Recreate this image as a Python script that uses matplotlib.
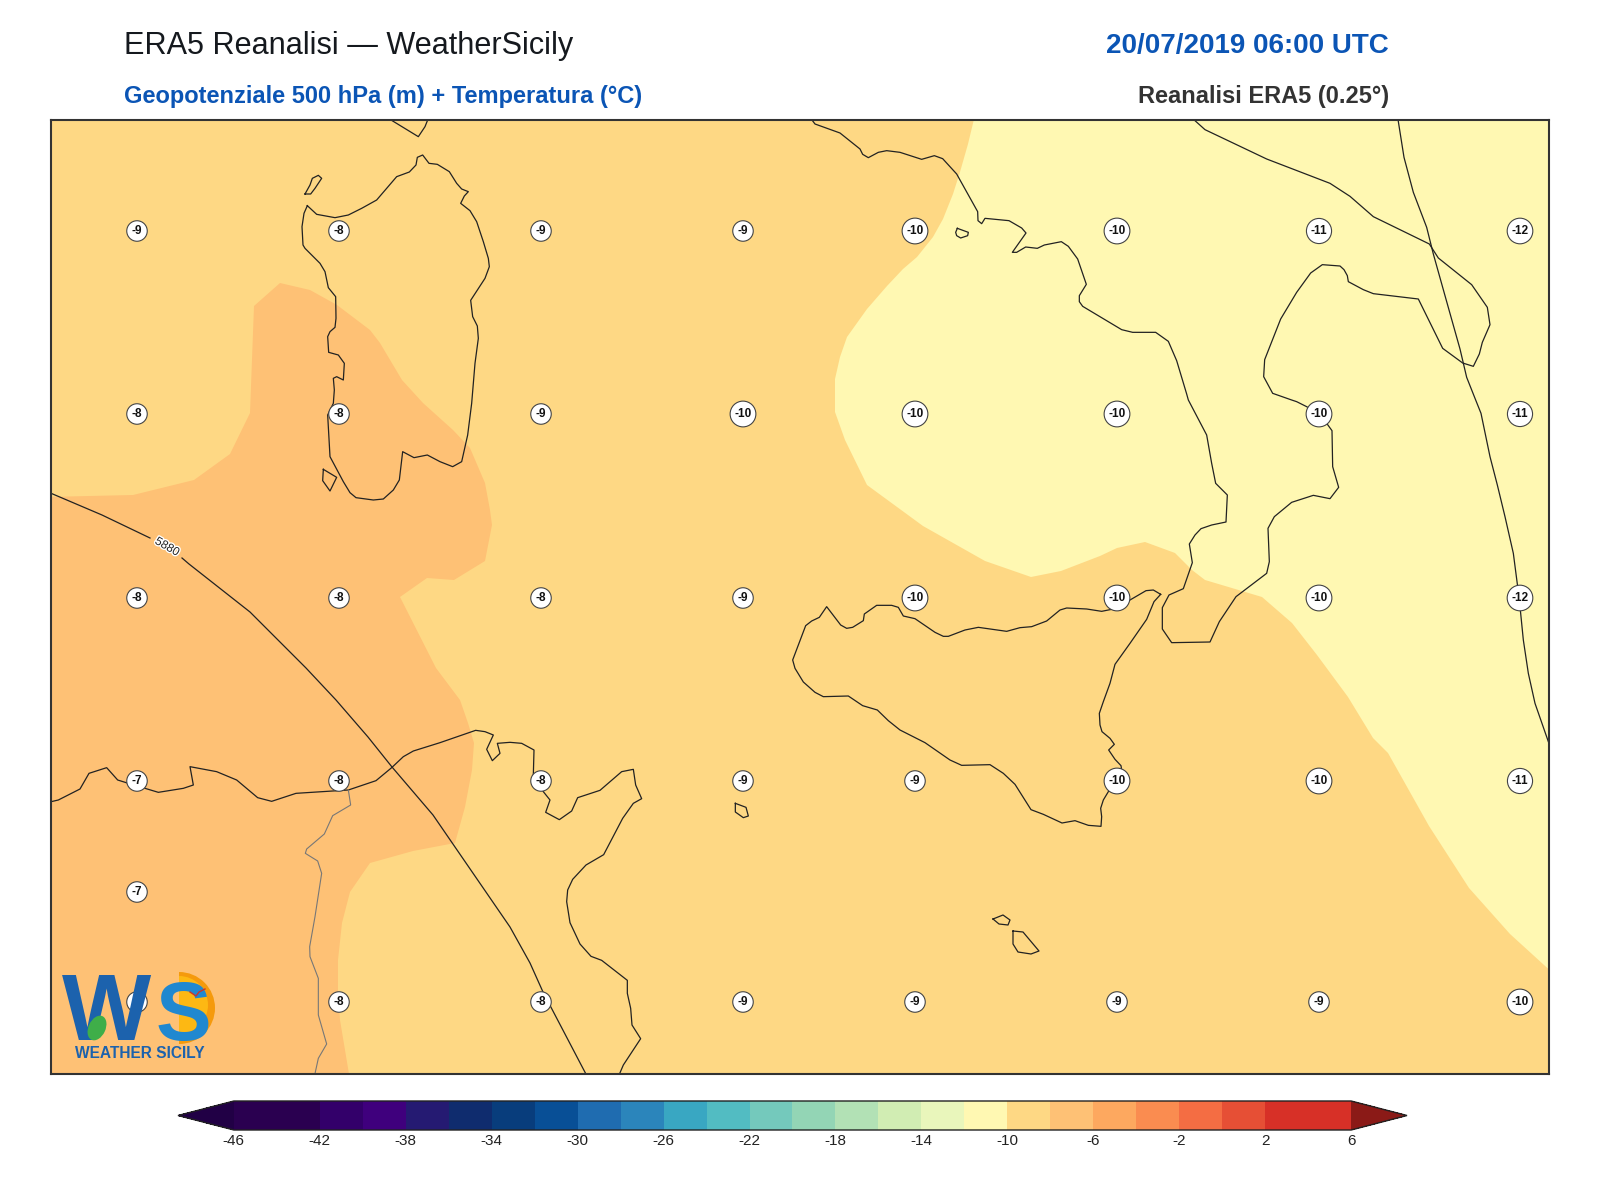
import matplotlib
matplotlib.use("Agg")
import matplotlib.pyplot as plt
import matplotlib.patheffects as pe
from matplotlib.colors import ListedColormap, BoundaryNorm
from matplotlib.colorbar import ColorbarBase
from matplotlib.patches import Wedge, Ellipse

plt.rcParams['font.family'] = ['Liberation Sans', 'DejaVu Sans']

# ---------- values ----------
LEVELS = list(range(-46, 8, 2))
TICKS = list(range(-46, 10, 4))
BAND_COLORS = ['#2a0050', '#2a0050', '#33006a', '#3f007d', '#251a72', '#0f2c6e', '#083d7c', '#084f96',
               '#1f6cb0', '#2b85bb', '#39a7c2', '#52bcc2', '#74c9bc', '#93d5b5', '#b2e1b5', '#d1edb3',
               '#e9f6bb', '#fff8b2', '#fed884', '#fec175', '#fda85f', '#fa8c50', '#f46d43', '#e64f35',
               '#d73027', '#d73027']
UNDER = '#210045'
OVER = '#8b1a17'

GRID_X = [137, 339, 541, 743, 915, 1117, 1319, 1520]
ROW_Y = [231, 414, 598, 781, 1002]
ROW_T = [
    [-9, -8, -9, -9, -10, -10, -11, -12],
    [-8, -8, -9, -10, -10, -10, -10, -11],
    [-8, -8, -8, -9, -10, -10, -10, -12],
    [-7, -8, -8, -9, -9, -10, -10, -11],
    [-7, -8, -8, -9, -9, -9, -9, -10],
]
EXTRA_X, EXTRA_Y, EXTRA_T = [137], [892], [-7]

# Outlines, each as (x0, y0, points read at 3x from a map window)
SARDINIA = (280, 120, [(82,257),(110,283),(165,293),(205,285),(245,265),(290,240),(320,205),(350,170),(388,156),(408,135),(412,112),(428,105),(447,130),(472,133),(508,155),(530,190),(545,207),(565,215),(553,228),(542,250),(570,272),(590,305),(610,365),(625,415),(628,440),(615,475),(572,541),(578,590),(592,618),(595,655),(585,730),(575,850),(563,945),(545,1025),(518,1040),(480,1025),(442,1005),(402,1013),(368,995),(358,1080),(340,1110),(310,1137),(280,1140),(228,1133),(210,1118),(190,1085),(150,1010),(143,885),(160,850),(163,810),(160,775),(170,770),(190,780),(193,730),(175,705),(146,697),(143,650),(150,635),(165,622),(168,595),(167,530),(145,503),(135,455),(120,430),(75,385),(69,375),(66,320),(72,280),(82,257)])
ASINARA = (280, 120, [(75,222),(92,222),(105,205),(125,175),(115,166),(97,175),(90,195),(75,222)])
ANTIOCO = (280, 120, [(130,1048),(170,1072),(150,1113),(128,1082),(130,1048)])
CORSICA = (280, 120, [(325,-5),(415,50),(435,20),(445,-5)])
SICILY = (780, 570, [(1142,73),(1120,60),(1098,62),(1050,90),(1010,115),(965,124),(920,117),(860,114),(840,120),(800,153),(755,170),(720,173),(680,184),(595,172),(555,180),(505,199),(490,199),(465,187),(405,146),(370,138),(355,112),(335,106),(290,106),(253,132),(250,152),(218,172),(200,175),(182,165),(140,110),(118,142),(95,153),(77,167),(38,270),(45,295),(70,336),(105,367),(130,380),(205,378),(248,407),(292,420),(325,452),(360,480),(435,518),(510,570),(545,586),(630,584),(670,610),(705,643),(753,719),(790,733),(846,759),(885,752),(925,766),(963,769),(965,740),(962,715),(970,690),(985,665),(1010,635),(1025,600),(1023,587),(1005,568),(986,540),(1003,523),(990,505),(966,485),(960,465),(958,430),(970,395),(990,340),(1005,283),(1050,220),(1100,148),(1122,95),(1142,73)])
ITALY_A = (800, 119, [(30,-5),(45,15),(120,42),(180,90),(188,106),(205,116),(235,100),(260,95),(300,100),(365,121),(403,110),(428,119),(470,165),(533,278),(534,305),(545,314),(555,298),(627,305),(665,327),(678,342),(637,400),(650,400),(677,384),(712,388),(733,378),(784,368),(805,382),(833,420),(859,496),(838,530),(838,548),(848,562),(965,632),(998,640),(1067,640),(1105,667),(1130,725),(1160,825)])
ITALY_B = (1100, 400, [(265,0),(320,105),(335,190),(347,250),(382,285),(378,366),(335,375),(303,386),(285,405),(268,432),(277,488),(250,566),(207,585),(187,623),(187,687),(215,728),(330,726),(358,665),(408,590),(500,520),(508,485),(504,385),(523,350),(575,307),(640,286),(690,296),(716,262),(698,200),(696,92),(680,70),(655,43),(620,20),(590,5),(575,0)])
ITALY_C = (1150, 119, [(368,823),(341,773),(344,722),(392,600),(440,520),(482,462),(517,437),(570,441),(582,452),(592,470),(595,488),(640,512),(670,524),(805,540),(878,688),(938,732),(970,742),(988,705),(997,670),(1020,617),(1012,565),(965,497),(865,417),(838,375),(670,293),(600,232),(540,193),(350,120),(165,32),(135,5),(125,-5)])
CAPRI = (800, 119, [(472,328),(505,340),(503,350),(482,357),(470,350),(467,340),(472,328)])
BALKAN_A = (1150, 119, [(743,-5),(762,115),(790,220),(830,325),(850,405),(885,530),(930,690),(950,775)])
BALKAN_B = (1100, 400, [(1127,0),(1143,40),(1170,170),(1192,255),(1215,350),(1240,460),(1253,560),(1262,640),(1270,720),(1285,820),(1305,910),(1352,1045)])
AFRICA_A = (40, 700, [(25,307),(55,300),(120,267),(147,220),(200,203),(233,240),(265,250),(355,277),(430,265),(460,255),(450,200),(530,215),(590,240),(653,293),(695,304),(768,280),(925,270),(1008,242),(1055,203),(1090,170),(1120,153),(1200,128)])
AFRICA_B = (380, 700, [(287,91),(315,95),(340,105),(320,148),(337,182),(360,160),(352,130),(390,127),(425,130),(462,150),(460,225),(490,275),(510,300),(497,337),(538,359),(575,333),(593,293),(660,271),(725,215),(760,208),(767,255),(785,296),(760,310),(728,355),(671,464),(618,495),(578,538),(563,570),(560,605),(570,668),(600,732),(633,769),(665,781),(742,841),(742,880),(752,925),(756,975),(782,1016),(730,1095),(715,1130)])
BORDER = (40, 700, [(925,270),(932,315),(878,347),(853,402),(800,447),(796,460),(833,483),(845,520),(825,650),(809,740),(810,770),(835,835),(835,945),(860,1032),(835,1075),(823,1130)])
PANTELLERIA = (380, 700, [(1066,310),(1098,322),(1105,348),(1090,353),(1066,336),(1066,310)])
MALTA = [(1013,931),(1023,932),(1039,951),(1031,954),(1018,952),(1013,944),(1013,931)]
GOZO = [(993,919),(1003,915),(1010,920),(1008,925),(999,924),(993,919)]

NAN = float('nan')
Z5880_X = [48, 102, 150, NAN, 182, 189, 250, 306, 336, 368, 392, 433, 510, 530, 543, 588]
Z5880_Y = [492, 515, 538, NAN, 558, 564, 612, 668, 700, 737, 767, 815, 927, 963, 992, 1078]
Z5880_LABEL = (167, 547, -30, '5880')

WARM_X = [45, 133, 194, 230, 250, 254, 280, 310, 337, 370, 380, 402, 423, 453, 470, 485, 490, 492, 485, 454, 427, 400, 436, 460, 468, 474, 472, 465, 455, 413, 370, 350, 342, 338, 338, 340, 350, 45]
WARM_Y = [497, 495, 480, 454, 413, 306, 283, 290, 305, 330, 343, 380, 403, 430, 448, 483, 510, 525, 561, 580, 578, 597, 668, 700, 723, 743, 770, 807, 843, 851, 863, 892, 923, 960, 993, 1020, 1080, 1080]
COOL_X = [975, 968, 960, 953, 943, 933, 917, 903, 887, 867, 847, 840, 835, 835, 845, 867, 923, 985, 1031, 1061, 1100, 1117, 1145, 1175, 1192, 1205, 1262, 1292, 1317, 1348, 1373, 1388, 1429, 1469, 1510, 1555, 1555, 975]
COOL_Y = [115, 144, 172, 194, 219, 237, 257, 269, 286, 309, 337, 357, 379, 412, 440, 485, 526, 561, 577, 571, 556, 548, 542, 553, 570, 580, 597, 623, 655, 697, 738, 753, 826, 888, 934, 975, 115, 115]

TITLE_L = 'ERA5 Reanalisi \u2014 WeatherSicily'
SUB_L = 'Geopotenziale 500 hPa (m) + Temperatura (\u00b0C)'
TITLE_R = '20/07/2019 06:00 UTC'
SUB_R = 'Reanalisi ERA5 (0.25\u00b0)'


def pts(seg):
    x0, y0, p = seg
    return [x0 + a / 3 for a, _ in p], [y0 + b / 3 for _, b in p]


W, H = 1600, 1200
L, R, T, B = 51, 1549, 119.5, 1073.5
fig = plt.figure(figsize=(W / 100, H / 100), dpi=100, facecolor='white')
ax = fig.add_axes([L / W, 1 - B / H, (R - L) / W, (B - T) / H])
ax.set_xlim(L, R)
ax.set_ylim(B, T)
ax.set_xticks([])
ax.set_yticks([])
for s in ax.spines.values():
    s.set_linewidth(1.5)
    s.set_color('#333333')
    s.set_zorder(20)

cmap = ListedColormap(BAND_COLORS)
cmap.set_under(UNDER)
cmap.set_over(OVER)
norm = BoundaryNorm(LEVELS, cmap.N)

ax.set_facecolor(cmap(norm(-9)))
ax.fill(WARM_X, WARM_Y, color=cmap(norm(-7)), lw=0, zorder=1)
ax.fill(COOL_X, COOL_Y, color=cmap(norm(-11)), lw=0, zorder=1)

coast = dict(color='#222222', lw=0.9, zorder=3, solid_joinstyle='round')
for seg in [SARDINIA, ASINARA, ANTIOCO, CORSICA, SICILY, CAPRI, PANTELLERIA]:
    ax.plot(*pts(seg), **coast)
for group in [[ITALY_A, ITALY_B, ITALY_C], [BALKAN_A, BALKAN_B], [AFRICA_A, AFRICA_B]]:
    xs, ys = [], []
    for seg in group:
        a, b = pts(seg)
        xs += a
        ys += b
    ax.plot(xs, ys, **coast)
ax.plot(*zip(*MALTA), **coast)
ax.plot(*zip(*GOZO), **coast)
ax.plot(*pts(BORDER), color='#777777', lw=0.8, zorder=3)
ax.plot(Z5880_X, Z5880_Y, color='#222222', lw=0.9, zorder=3)
lx, ly, rot, txt = Z5880_LABEL
ax.text(lx, ly, txt, rotation=rot, ha='center', va='center', fontsize=8.5, color='#222222', zorder=4,
        rotation_mode='anchor',
        path_effects=[pe.withStroke(linewidth=2, foreground='white')])


def label(x, y, v):
    ax.text(x, y, str(v), ha='center', va='center', fontsize=8.5, fontweight='bold', color='#111111', zorder=6,
            bbox=dict(boxstyle='circle,pad=0.36', fc='white', ec='#444444', lw=0.8))


for y, row in zip(ROW_Y, ROW_T):
    for x, v in zip(GRID_X, row):
        label(x, y, v)
for x, y, v in zip(EXTRA_X, EXTRA_Y, EXTRA_T):
    label(x, y, v)

# logo
ax.add_patch(Wedge((179, 1008), 36, -90, 90, fc='#f59a0c', ec='none', zorder=10))
ax.add_patch(Wedge((179, 1005), 29, -90, 90, fc='#fdb813', ec='none', zorder=10))
ax.text(62, 1040, 'W', fontsize=68, fontweight='bold', color='#1c62ad', va='baseline', ha='left', zorder=11)
ax.text(156, 1040, 'S', fontsize=60, fontweight='bold', color='#2088d0', va='baseline', ha='left', zorder=11)
ax.add_patch(Ellipse((97, 1028), 17, 26, angle=25, fc='#3fae49', ec='none', zorder=12))
ax.plot([190, 196, 199, 205], [992, 996, 992, 989], color='#c8372d', lw=1, zorder=12)
ax.text(140, 1053, 'WEATHER SICILY', fontsize=11.2, fontweight='bold', color='#1c62ad', va='center', ha='center', zorder=11)

# titles
fig.text(124 / W, 1 - 46 / H, TITLE_L, fontsize=22.1, color='#15191e', va='center', ha='left')
fig.text(124 / W, 1 - 97 / H, SUB_L, fontsize=17, fontweight='bold', color='#0b55b5', va='center', ha='left')
fig.text(1389 / W, 1 - 46 / H, TITLE_R, fontsize=20, fontweight='bold', color='#0b55b5', va='center', ha='right')
fig.text(1389 / W, 1 - 97 / H, SUB_R, fontsize=17, fontweight='bold', color='#333333', va='center', ha='right')

# colour bar (axes spans tip to tip; matplotlib shrinks it to fit the extensions)
cax = fig.add_axes([178 / W, 1 - 1130 / H, 1229 / W, 29 / H])
cb = ColorbarBase(cax, cmap=cmap, norm=norm, orientation='horizontal', extend='both', extendfrac=0.05,
                  boundaries=LEVELS, spacing='proportional', ticks=TICKS, drawedges=False)
cb.minorticks_off()
cb.outline.set_linewidth(1.0)
cb.outline.set_edgecolor('#222222')
cb.ax.tick_params(length=0, labelsize=11, pad=3, colors='#222222')
cb.ax.set_xticklabels([str(t) for t in TICKS])

fig.savefig('out.png', dpi=100)
